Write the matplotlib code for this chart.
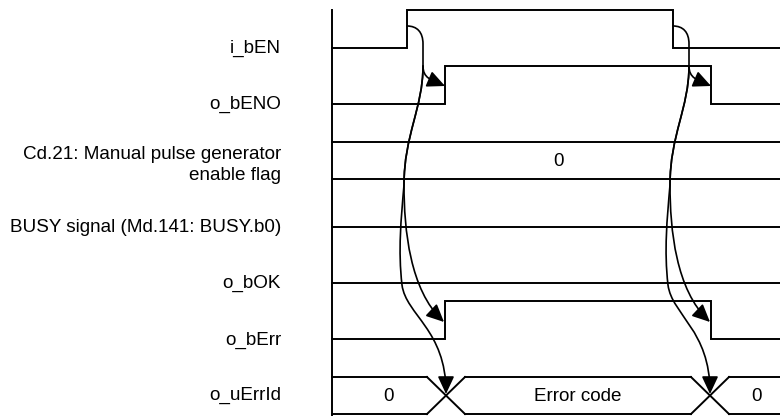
import matplotlib
matplotlib.use("Agg")
import matplotlib.pyplot as plt
from matplotlib.path import Path
from matplotlib.patches import FancyArrowPatch

plt.rcParams['font.family'] = ['Liberation Sans', 'DejaVu Sans']

# signal names (top to bottom)
labels = ["i_bEN", "o_bENO", "Cd.21: Manual pulse generator\nenable flag",
          "BUSY signal (Md.141: BUSY.b0)", "o_bOK", "o_bErr", "o_uErrId"]
en_edges = [407, 673]      # i_bEN on / off
out_edges = [445, 711]     # o_bENO, o_bErr follow
cross_edges = [446, 710]   # o_uErrId changes
cd21_value = "0"
errid_values = ["0", "Error code", "0"]

X0, X1 = 332, 804
H = 38
LW = 1.4
FS = 13.6

fig = plt.figure(figsize=(7.8, 4.16), dpi=100)
ax = fig.add_axes([0, 0, 1, 1])
ax.set_xlim(0, 780)
ax.set_ylim(416, 0)
ax.axis('off')


def digital(edges, y_low, start_high=False):
    xs = [X0]
    ys = []
    lvl = start_high
    y = y_low - H if lvl else y_low
    ys.append(y)
    for e in edges:
        xs += [e, e]
        ys += [y, None]
        lvl = not lvl
        y = y_low - H if lvl else y_low
        ys[-1] = y
    xs.append(X1)
    ys.append(y)
    ax.plot(xs, ys, color='k', lw=LW, solid_joinstyle='miter')


def bus(crosses, y_top, y_bot, values, w=19):
    pts = [X0]
    for c in crosses:
        pts += [c - w, c + w]
    pts.append(X1)
    for i in range(0, len(pts), 2):
        ax.plot([pts[i], pts[i + 1]], [y_top, y_top], color='k', lw=LW)
        ax.plot([pts[i], pts[i + 1]], [y_bot, y_bot], color='k', lw=LW)
    for c in crosses:
        ax.plot([c - w, c + w], [y_top, y_bot], color='k', lw=LW)
        ax.plot([c - w, c + w], [y_bot, y_top], color='k', lw=LW)
    bounds = [X0] + crosses + [X1]
    for i, v in enumerate(values):
        ax.text((bounds[i] + bounds[i + 1]) / 2, (y_top + y_bot) / 2 + 1, v,
                ha='center', va='center', fontsize=FS)


# labels
label_y = [48, 104, 165, 228, 283, 340, 395]
for lab, y in zip(labels, label_y):
    ax.text(281, y, lab, ha='right', va='center', fontsize=FS, linespacing=1.25)

# left border
ax.plot([X0, X0], [10, 416], color='k', lw=LW)

digital(en_edges, 48)
digital(out_edges, 104)
ax.plot([X0, X1], [142, 142], color='k', lw=LW)
ax.plot([X0, X1], [179, 179], color='k', lw=LW)
ax.text((X0 + 780) / 2 + 2, 161, cd21_value, ha='center', va='center', fontsize=FS)
digital([], 227)
digital([], 283)
digital(out_edges, 339)
bus(cross_edges, 377, 414, errid_values)

# cause/effect arrows
M, C, L = Path.MOVETO, Path.CURVE4, Path.LINETO
style = "-|>,head_length=0.9,head_width=0.42"


def arrow(verts, codes):
    ax.add_patch(FancyArrowPatch(path=Path(verts, codes), arrowstyle=style,
                                 mutation_scale=12, lw=1.2, color='k'))


for d, dst, cx in zip(en_edges, out_edges, cross_edges):
    j = d + 16
    arrow([(d, 26), (d + 10, 26), (j, 32), (j, 44), (j, 66),
           (j, 78), (j + 8, 80), (dst, 86)],
          [M, C, C, C, L, C, C, C])
    seg1 = [(j, 66), (j, 108), (d - 3, 135), (d - 3, 185)]
    arrow(seg1 + [(d - 3, 230), (d + 3, 290), (dst - 1, 322)],
          [M, C, C, C, C, C, C])
    arrow(seg1 + [(d - 6, 220), (d - 9, 250), (d - 5, 285),
                  (d - 1, 315), (cx, 330), (cx, 394)],
          [M, C, C, C, C, C, C, C, C, C])

fig.savefig("out.png", dpi=100)
